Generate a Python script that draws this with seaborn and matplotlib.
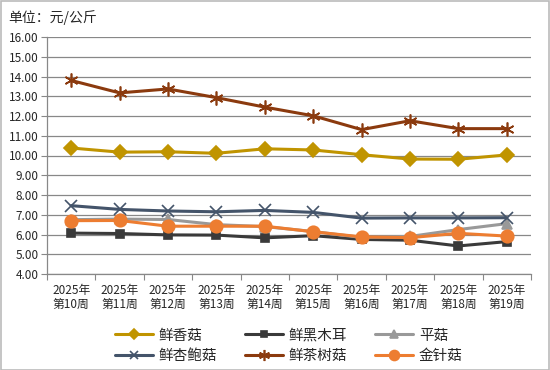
import numpy as np
import pandas as pd
import seaborn as sns
import matplotlib.pyplot as plt
from matplotlib.ticker import FixedLocator

weeks = ["2025年\n第10周", "2025年\n第11周", "2025年\n第12周", "2025年\n第13周", "2025年\n第14周",
         "2025年\n第15周", "2025年\n第16周", "2025年\n第17周", "2025年\n第18周", "2025年\n第19周"]

xiang_gu = [10.38, 10.17, 10.19, 10.11, 10.34, 10.28, 10.04, 9.82, 9.81, 10.03]
hei_muer = [6.07, 6.05, 5.98, 5.97, 5.83, 5.94, 5.75, 5.71, 5.42, 5.64]
ping_gu = [6.75, 6.78, 6.76, 6.50, 6.40, 6.15, 5.85, 5.90, 6.25, 6.55]
xingbao_gu = [7.46, 7.27, 7.19, 7.15, 7.22, 7.12, 6.83, 6.84, 6.84, 6.85]
chashu_gu = [13.80, 13.17, 13.37, 12.93, 12.45, 12.01, 11.31, 11.76, 11.36, 11.36]
jinzhen_gu = [6.70, 6.71, 6.42, 6.42, 6.42, 6.14, 5.88, 5.84, 6.06, 5.92]

series = [
    ("鲜香菇", xiang_gu, "#C09400", "D", 7),
    ("鲜黑木耳", hei_muer, "#3A3A3A", "s", 6),
    ("平菇", ping_gu, "#999999", "^", 7),
    ("鲜杏鲍菇", xingbao_gu, "#44546A", "x", 8),
    ("鲜茶树菇", chashu_gu, "#8B3A0E", (6, 2, 0), 10),
    ("金针菇", jinzhen_gu, "#ED7D31", "o", 9),
]

sns.set_theme(style="white")
plt.rcParams["font.family"] = ["Noto Sans CJK SC", "DejaVu Sans"]

fig = plt.figure(figsize=(5.5, 3.7), dpi=100)
ax = fig.add_axes([47 / 550, 1 - 274 / 370, 484 / 550, 237 / 370])

x = np.arange(len(weeks))
for name, vals, color, marker, ms in series:
    df = pd.DataFrame({"week": x, "price": vals})
    sns.lineplot(data=df, x="week", y="price", ax=ax, color=color, linewidth=2.2,
                 marker=marker, markersize=ms, markeredgecolor=color,
                 markeredgewidth=1.2, label=name)

ax.set_xlim(-0.5, len(weeks) - 0.5)
ax.set_ylim(4, 16)
ax.set_yticks(np.arange(4, 16.01, 1))
ax.set_yticklabels([f"{v:.2f}" for v in np.arange(4, 16.01, 1)], fontsize=8.5)
ax.set_xticks(x)
ax.set_xticklabels(weeks, fontsize=8.5, linespacing=1.15)
ax.xaxis.set_minor_locator(FixedLocator(np.arange(-0.5, len(weeks), 1)))
ax.tick_params(axis="x", which="major", length=0, pad=7)
ax.tick_params(axis="x", which="minor", length=4, color="#888888", width=0.8, direction="out", bottom=True)
ax.tick_params(axis="y", length=4, color="#888888", width=0.8, direction="out", left=True, pad=2)
ax.set_xlabel("")
ax.set_ylabel("")
ax.grid(axis="y", color="#888888", linewidth=0.9)
ax.set_axisbelow(True)
for side in ["top", "right"]:
    ax.spines[side].set_visible(False)
for side in ["left", "bottom"]:
    ax.spines[side].set_color("#888888")
    ax.spines[side].set_linewidth(0.9)

# legend fills column-first, so reorder to get rows like the reference
handles, labels = ax.get_legend_handles_labels()
order = [0, 3, 1, 4, 2, 5]
ax.legend([handles[i] for i in order], [labels[i] for i in order],
          loc="upper center", bbox_to_anchor=(0.5, -0.175), ncol=3, frameon=False,
          fontsize=10.5, handlelength=2.6, columnspacing=1.9, handletextpad=0.4,
          labelspacing=0.45, markerscale=0.8)

fig.text(8 / 550, 1 - 18 / 370, "单位：元/公斤", fontsize=10, va="center", ha="left")
fig.patches.append(plt.Rectangle((0.001, 0.001), 0.997, 0.996, transform=fig.transFigure,
                                 fill=False, edgecolor="#BBBBBB", linewidth=1.2))

fig.savefig("out.png", dpi=100)
